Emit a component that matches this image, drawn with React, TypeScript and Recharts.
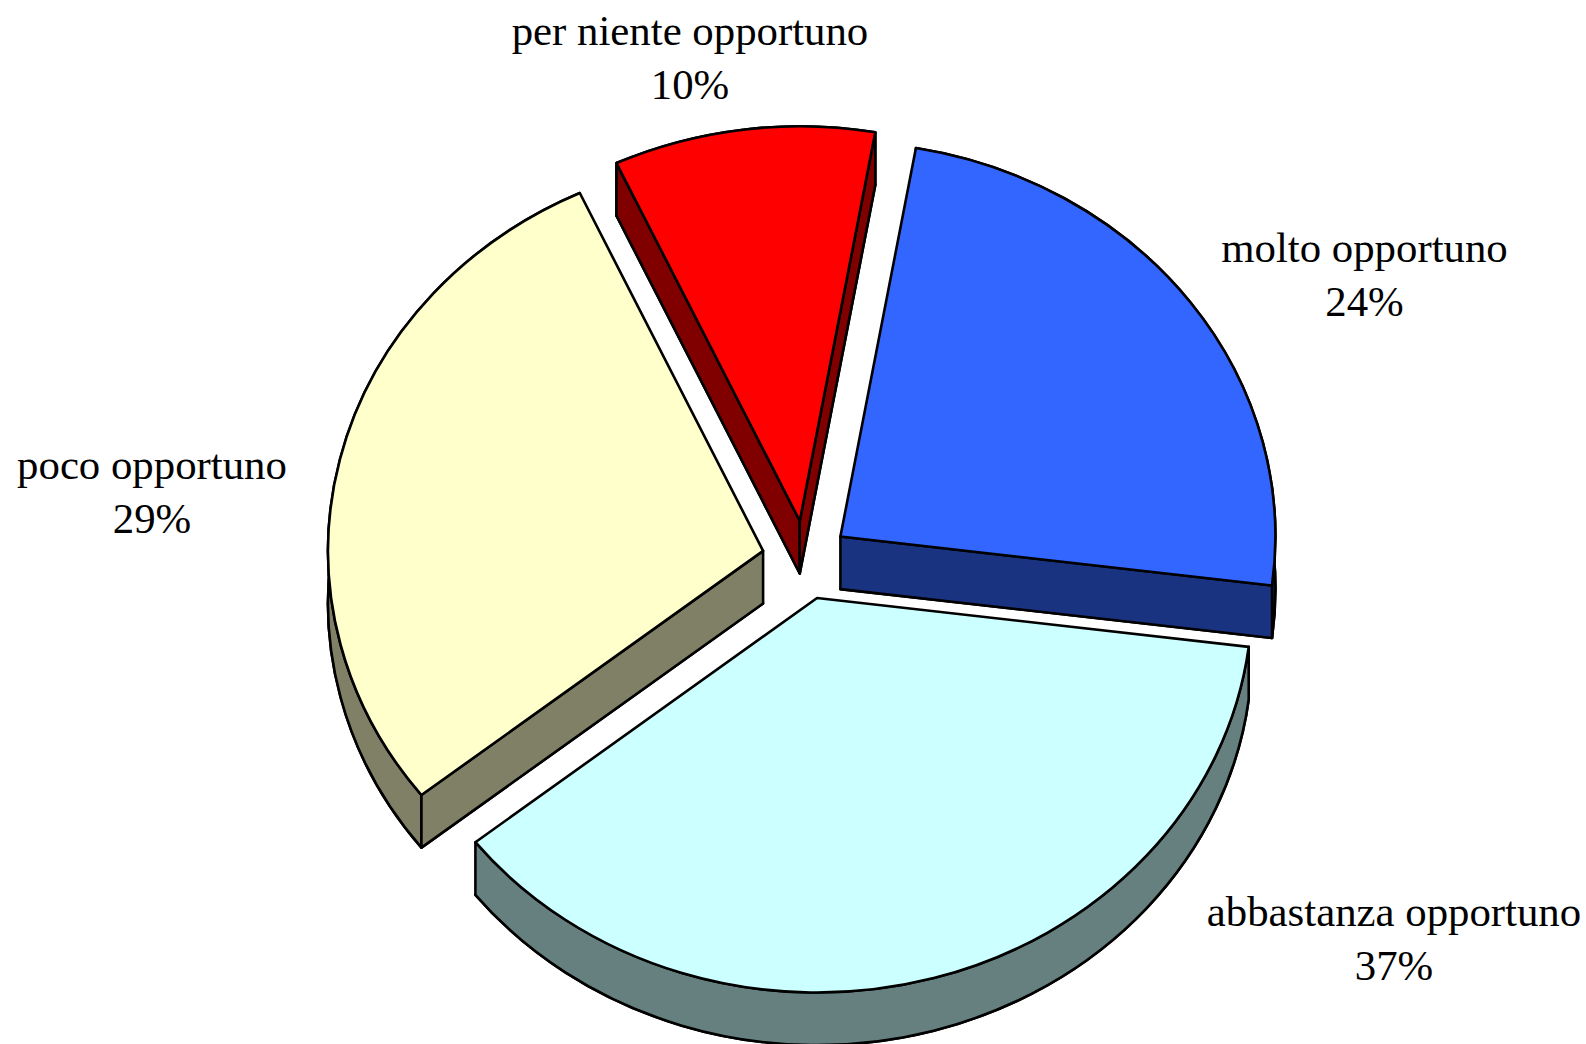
import { PieChart, Pie, Cell } from "recharts";

const categories = ["molto opportuno", "abbastanza opportuno", "poco opportuno", "per niente opportuno"];
const shares = [24.2, 37.4, 28.7, 9.7];
const topColors = ["#3366FF", "#CCFFFF", "#FFFFCC", "#FF0000"];
const wallColors = ["#1A3380", "#668080", "#808066", "#800000"];

const chartData = categories.map((name, i) => ({ name, value: shares[i] }));

// where each two-line label sits: centre x, first baseline
const labelX = [1364.5, 1394, 152, 690];
const labelY = [262, 926, 479, 45];

const TILT = 0.907;
const DEPTH = 52.6;
const EXPLODE = 43.5;
const STROKE = 2.6;

// tilted exploded slice with its side walls, angles come from the Pie
function Slice3D(props: any) {
  const { cx, cy, outerRadius, startAngle, endAngle, index } = props;
  const rx = outerRadius;
  const ry = outerRadius * TILT;
  const rad = (deg: number) => (deg * Math.PI) / 180;
  const mid = rad((startAngle + endAngle) / 2);
  const ax = cx + EXPLODE * Math.cos(mid);
  const ay = cy - EXPLODE * TILT * Math.sin(mid);
  const pt = (deg: number) => [ax + rx * Math.cos(rad(deg)), ay - ry * Math.sin(rad(deg))];
  const [sx, sy] = pt(startAngle);
  const [ex, ey] = pt(endAngle);
  const large = Math.abs(endAngle - startAngle) > 180 ? 1 : 0;
  const sweep = endAngle < startAngle ? 1 : 0;
  const back = sweep ? 0 : 1;
  const wedge = (dy: number) =>
    `M${ax},${ay + dy} L${sx},${sy + dy} A${rx},${ry} 0 ${large} ${sweep} ${ex},${ey + dy} Z`;
  const rim = `M${sx},${sy} A${rx},${ry} 0 ${large} ${sweep} ${ex},${ey} L${ex},${ey + DEPTH} A${rx},${ry} 0 ${large} ${back} ${sx},${sy + DEPTH} Z`;
  const face = (x: number, y: number) =>
    `M${ax},${ay} L${x},${y} L${x},${y + DEPTH} L${ax},${ay + DEPTH} Z`;
  // a cut face only shows when it looks downward
  const showStart = Math.cos(rad(startAngle)) < 0;
  const showEnd = Math.cos(rad(endAngle)) > 0;
  const common = { stroke: "#000", strokeWidth: STROKE, strokeLinejoin: "round" as const };
  return (
    <g>
      <path d={wedge(DEPTH)} fill={wallColors[index]} {...common} />
      <path d={rim} fill={wallColors[index]} {...common} />
      {showStart && <path d={face(sx, sy)} fill={wallColors[index]} {...common} />}
      {showEnd && <path d={face(ex, ey)} fill={wallColors[index]} {...common} />}
      <path d={wedge(0)} fill={topColors[index]} {...common} />
    </g>
  );
}

function renderLabel(props: any) {
  const { index, name, value } = props;
  return (
    <text
      x={labelX[index]}
      y={labelY[index]}
      textAnchor="middle"
      fill="#000"
      fontFamily="'Liberation Serif', serif"
      fontSize={42.8}
    >
      <tspan x={labelX[index]}>{name}</tspan>
      <tspan x={labelX[index]} dy={54}>{`${Math.round(value)}%`}</tspan>
    </text>
  );
}

export default function App() {
  return (
    <div style={{ position: "absolute", left: 0, top: 0, width: 1586, height: 1044, background: "#fff" }}>
      <PieChart width={1586} height={1044} margin={{ top: 0, right: 0, bottom: 0, left: 0 }}>
        <Pie
          data={chartData}
          dataKey="value"
          nameKey="name"
          cx={805.4}
          cy={560}
          innerRadius={0}
          outerRadius={435}
          startAngle={80}
          endAngle={-280}
          paddingAngle={0}
          shape={Slice3D}
          label={renderLabel}
          labelLine={false}
          isAnimationActive={false}
        >
          {chartData.map((d, i) => (
            <Cell key={d.name} fill={topColors[i]} />
          ))}
        </Pie>
      </PieChart>
    </div>
  );
}
